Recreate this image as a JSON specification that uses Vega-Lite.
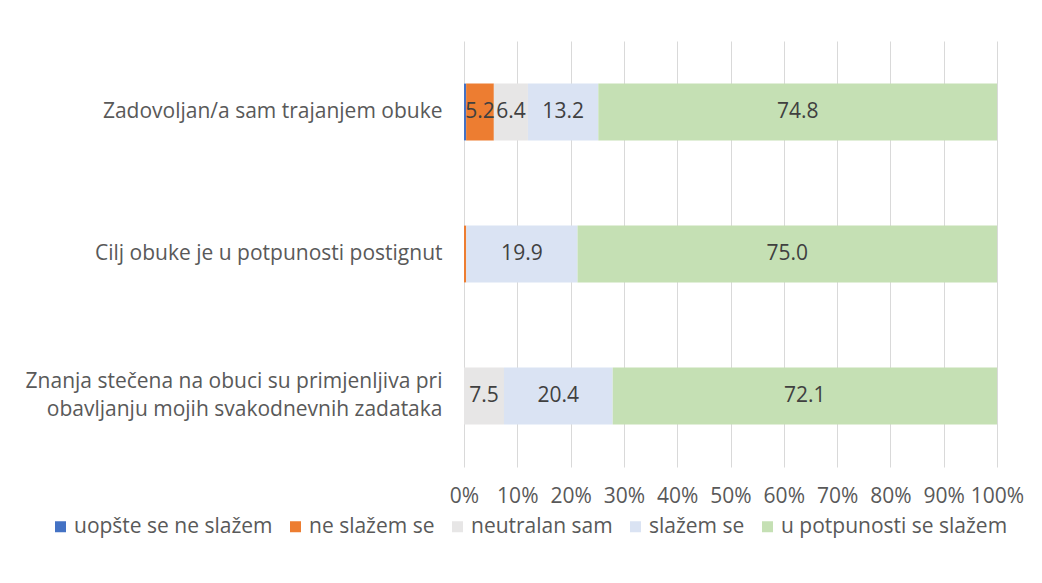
{
  "$schema": "https://vega.github.io/schema/vega-lite/v6.json",
  "width": 533,
  "height": 426,
  "autosize": {"type": "none"},
  "padding": {"left": 464, "top": 41, "right": 45, "bottom": 116},
  "background": "white",
  "config": {"font": "Open Sans", "view": {"stroke": null}},
  "data": {
    "values": [
      {"q": "Zadovoljan/a sam trajanjem obuke", "r": "uopšte se ne slažem", "o": 1, "v": 0.4},
      {"q": "Zadovoljan/a sam trajanjem obuke", "r": "ne slažem se", "o": 2, "v": 5.2},
      {"q": "Zadovoljan/a sam trajanjem obuke", "r": "neutralan sam", "o": 3, "v": 6.4},
      {"q": "Zadovoljan/a sam trajanjem obuke", "r": "slažem se", "o": 4, "v": 13.2},
      {"q": "Zadovoljan/a sam trajanjem obuke", "r": "u potpunosti se slažem", "o": 5, "v": 74.8},
      {"q": "Cilj obuke je u potpunosti postignut", "r": "ne slažem se", "o": 2, "v": 0.4},
      {"q": "Cilj obuke je u potpunosti postignut", "r": "slažem se", "o": 4, "v": 19.9},
      {"q": "Cilj obuke je u potpunosti postignut", "r": "u potpunosti se slažem", "o": 5, "v": 75.0},
      {"q": "Znanja stečena na obuci su primjenljiva pri|obavljanju mojih svakodnevnih zadataka", "r": "neutralan sam", "o": 3, "v": 7.5},
      {"q": "Znanja stečena na obuci su primjenljiva pri|obavljanju mojih svakodnevnih zadataka", "r": "slažem se", "o": 4, "v": 20.4},
      {"q": "Znanja stečena na obuci su primjenljiva pri|obavljanju mojih svakodnevnih zadataka", "r": "u potpunosti se slažem", "o": 5, "v": 72.1}
    ]
  },
  "transform": [
    {"stack": "v", "groupby": ["q"], "sort": [{"field": "o"}], "offset": "normalize", "as": ["x0", "x1"]},
    {"calculate": "(datum.x0 + datum.x1) / 2", "as": "xm"}
  ],
  "encoding": {
    "y": {
      "field": "q",
      "type": "nominal",
      "sort": [
        "Zadovoljan/a sam trajanjem obuke",
        "Cilj obuke je u potpunosti postignut",
        "Znanja stečena na obuci su primjenljiva pri|obavljanju mojih svakodnevnih zadataka"
      ],
      "scale": {"paddingInner": 0.6, "paddingOuter": 0.3},
      "axis": {
        "title": null,
        "domain": false,
        "ticks": false,
        "labelPadding": 22,
        "labelFontSize": 21,
        "labelColor": "#595959",
        "labelLineHeight": 28,
        "labelLimit": 460,
        "labelOffset": {"condition": {"test": "indexof(datum.value, '|') >= 0", "value": -14}, "value": 0},
        "labelExpr": "split(datum.label, '|')"
      }
    }
  },
  "layer": [
    {
      "mark": {"type": "bar"},
      "encoding": {
        "x": {
          "field": "x0",
          "type": "quantitative",
          "scale": {"domain": [0, 1], "nice": false},
          "axis": {
            "title": null,
            "format": ".0%",
            "values": [0, 0.1, 0.2, 0.3, 0.4, 0.5, 0.6, 0.7, 0.8, 0.9, 1],
            "domain": false,
            "ticks": false,
            "grid": true,
            "gridColor": "#D9D9D9",
            "gridWidth": 1,
            "labelPadding": 18,
            "labelFontSize": 21,
            "labelColor": "#595959",
            "labelFlush": false
          }
        },
        "x2": {"field": "x1"},
        "color": {
          "field": "r",
          "type": "nominal",
          "scale": {
            "domain": ["uopšte se ne slažem", "ne slažem se", "neutralan sam", "slažem se", "u potpunosti se slažem"],
            "range": ["#4472C4", "#ED7D31", "#E7E6E6", "#DAE3F3", "#C5E0B4"]
          },
          "legend": {
            "title": null,
            "orient": "none",
            "direction": "horizontal",
            "legendX": -414,
            "legendY": 475,
            "symbolType": "square",
            "symbolSize": 121,
            "symbolStrokeWidth": 0,
            "labelFontSize": 21,
            "labelColor": "#595959",
            "labelOffset": 3,
            "columnPadding": 12,
            "labelLimit": 400
          }
        }
      }
    },
    {
      "mark": {"type": "text", "fontSize": 21, "color": "#404040"},
      "transform": [{"filter": "datum.v >= 1"}],
      "encoding": {
        "x": {"field": "xm", "type": "quantitative"},
        "text": {"field": "v", "type": "quantitative", "format": ".1f"}
      }
    }
  ]
}
